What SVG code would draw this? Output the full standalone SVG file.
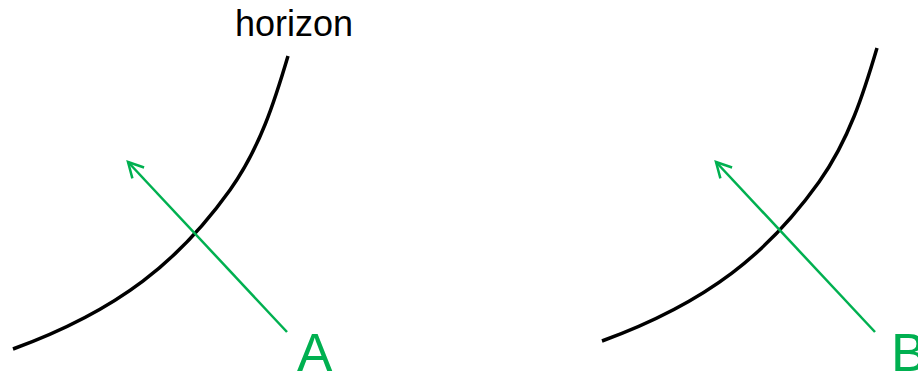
<svg xmlns="http://www.w3.org/2000/svg" width="918" height="375" viewBox="0 0 918 375">
<style>
.horizon{fill:none;stroke:#000;stroke-width:3.5;stroke-linecap:butt}
.ray{fill:none;stroke:#00B050;stroke-width:2.5}
.lbl{font-family:"Liberation Sans",Arial,sans-serif;fill:#00B050;font-size:53px}
.t{font-family:"Liberation Sans",Arial,sans-serif;fill:#000;font-size:36px}
</style>
<defs>
<marker id="ah" viewBox="0 0 20 20" refX="17" refY="10" markerWidth="20" markerHeight="20" markerUnits="userSpaceOnUse" orient="auto">
<path d="M2,2 L17,10 L2,18" fill="none" stroke="#00B050" stroke-width="2.5"/>
</marker>
</defs>
<g id="left">
<path class="horizon" d="M13,349 C120,310 180,260 230,190 C260,148 275,100 288,56"/>
<text class="t" x="235" y="36">horizon</text>
<text class="lbl" x="297" y="371">A</text>
</g>
<g id="right">
<path class="horizon" d="M602,341 C709,302 769,252 819,182 C849,140 864,92 877,48"/>
<text class="lbl" x="891" y="371">B</text>
</g>
<g id="connectors">
<line class="ray" x1="287" y1="332" x2="128" y2="162" marker-end="url(#ah)"/>
<line class="ray" x1="875" y1="332" x2="716" y2="162" marker-end="url(#ah)"/>
</g>
</svg>
